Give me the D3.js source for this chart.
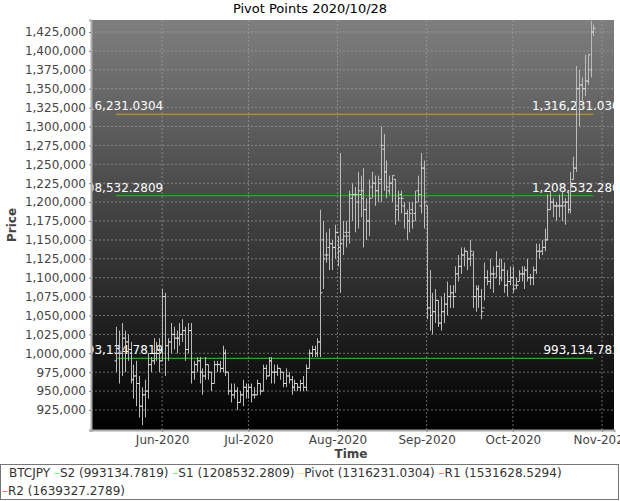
<!DOCTYPE html>
<html>
<head>
<meta charset="utf-8">
<script src="https://cdn.jsdelivr.net/npm/d3@7"></script>
<style>
body { margin: 0; background: #fff; }
text { font-family: "DejaVu Sans", sans-serif; }
</style>
</head>
<body>
<div id="chart"></div>
<script>
// daily bars, starting 2020-05-16 (values in thousands of JPY)
var startDate = "2020-05-16";
var highs = [1035,1030,1040,1030,1025,1015,985,990,970,955,965,1000,995,1020,1015,1020,
  1085,1080,1020,1040,1035,1030,1040,1045,1035,1040,1040,990,995,995,980,995,985,975,990,990,990,1010,1005,975,960,960,955,950,965,960,
  960,960,955,965,960,985,985,995,995,985,985,980,975,980,975,970,965,960,965,970,985,1005,1010,1010,1020,1190,1175,1160,1165,1150,1170,
  1155,1265,1175,1175,1215,1225,1220,1240,1235,1245,1205,1230,1240,1235,1235,1300,1290,1255,1235,1235,1230,1215,1215,1200,1190,1200,1200,1215,1235,1265,1255,
  1195,1110,1080,1085,1070,1075,1080,1095,1090,1090,1115,1130,1140,1140,1135,1150,1135,1090,1090,1085,1120,1110,1125,1115,1135,1125,1125,1120,1110,1115,
  1115,1100,1110,1115,1115,1125,1105,1115,1145,1145,1150,1165,1210,1215,1205,1200,1210,1215,1205,1215,1240,1260,1380,1375,1365,1395,1395,1440,1435];
var lows = [975,960,970,975,990,960,940,930,915,905,915,940,975,985,990,975,
  990,970,990,1000,1005,1000,1010,1015,990,1000,960,965,975,960,945,965,965,950,960,975,975,975,970,945,935,940,925,935,930,940,
  940,935,940,945,945,950,965,970,960,960,970,965,955,955,960,945,950,950,950,950,950,980,995,995,995,995,1085,1120,1110,1110,1125,
  1115,1080,1130,1140,1145,1175,1160,1165,1180,1140,1150,1155,1205,1195,1200,1200,1215,1205,1210,1200,1170,1175,1185,1165,1150,1160,1165,1175,1200,1185,1165,
  1045,1030,1025,1040,1035,1030,1040,1050,1060,1060,1080,1095,1105,1115,1110,1115,1060,1055,1060,1045,1070,1090,1085,1080,1100,1090,1095,1080,1075,1090,
  1080,1085,1095,1095,1085,1095,1090,1090,1105,1125,1130,1135,1150,1190,1180,1175,1180,1175,1170,1185,1185,1230,1240,1300,1325,1340,1355,1365,1420];
var opens = [990,1010,1000,1020,1015,1005,965,970,960,930,945,950,985,990,1000,1005,
  990,1075,1010,1015,1025,1020,1020,1025,1030,1005,1030,975,985,990,975,970,985,975,960,985,985,980,1000,975,950,945,950,935,945,955,
  950,955,945,945,960,950,980,970,990,975,975,980,975,960,970,965,955,960,955,960,955,980,1000,1005,1000,1015,1150,1130,1140,1145,1140,
  1160,1140,1150,1160,1160,1205,1210,1200,1210,1215,1190,1175,1220,1225,1215,1230,1270,1240,1215,1225,1230,1195,1210,1195,1185,1175,1190,1185,1215,1195,1245,
  1195,1060,1050,1055,1070,1040,1055,1065,1075,1080,1075,1105,1115,1130,1135,1125,1130,1075,1085,1075,1060,1100,1095,1105,1100,1115,1100,1110,1090,1095,
  1100,1090,1095,1105,1105,1110,1100,1100,1110,1135,1135,1140,1150,1190,1200,1195,1195,1195,1195,1200,1190,1230,1245,1350,1355,1350,1360,1375,1425];
var closes = [1010,1000,1020,1015,1005,965,970,960,930,945,950,985,990,1000,1005,990,
  1075,1010,1015,1025,1020,1020,1025,1030,1005,1030,975,985,990,975,970,985,975,960,985,985,980,1000,975,950,945,950,935,945,955,950,
  955,945,945,960,950,980,970,990,975,975,980,975,960,970,965,955,960,955,960,955,980,1000,1005,1000,1015,1080,1125,1130,1145,1140,1160,
  1135,1145,1155,1155,1210,1210,1210,1215,1205,1190,1175,1205,1225,1215,1225,1275,1240,1220,1225,1235,1190,1205,1205,1185,1175,1185,1175,1200,1210,1245,1200,
  1060,1050,1055,1070,1040,1055,1065,1075,1080,1075,1105,1115,1130,1135,1125,1135,1075,1085,1075,1055,1100,1095,1105,1105,1115,1100,1110,1090,1095,1100,
  1085,1090,1105,1105,1110,1100,1100,1110,1135,1135,1140,1150,1190,1200,1195,1195,1195,1200,1200,1190,1225,1245,1350,1355,1350,1360,1395,1425,1430];

var levelNames = ["S2", "S1", "Pivot", "R1", "R2"];
var levelValues = [993134.7819, 1208532.2809, 1316231.0304, 1531628.5294, 1639327.2789];
var levelLineColors = ["#00c000", "#00c000", "#d4a020", "#ff5555", "#ff5555"];
var levelLegendColors = ["#55ff55", "#55ff55", "#ffdd55", "#ff6666", "#ff6666"];
var yTicks = [925000, 950000, 975000, 1000000, 1025000, 1050000, 1075000, 1100000, 1125000, 1150000,
  1175000, 1200000, 1225000, 1250000, 1275000, 1300000, 1325000, 1350000, 1375000, 1400000, 1425000];
var xTicks = ["2020-06-01", "2020-07-01", "2020-08-01", "2020-09-01", "2020-10-01", "2020-11-01"];

var margin = {top: 20, right: 6, bottom: 71, left: 91},
    width = 620 - margin.left - margin.right,
    height = 501 - margin.top - margin.bottom;

var parse = d3.timeParse("%Y-%m-%d");
var data = highs.map(function(h, i) {
  return {date: d3.timeDay.offset(parse(startDate), i), high: h * 1000, low: lows[i] * 1000,
          open: opens[i] * 1000, close: closes[i] * 1000};
});

var svg = d3.select("#chart").append("svg")
    .attr("width", 620).attr("height", 501);

svg.append("text").attr("x", 310).attr("y", 13).attr("text-anchor", "middle")
    .style("font-size", "13px").text("Pivot Points 2020/10/28");

var defs = svg.append("defs");
var grad = defs.append("linearGradient").attr("id", "bg")
    .attr("x1", 0).attr("y1", 0).attr("x2", 0).attr("y2", 1);
grad.append("stop").attr("offset", "0%").attr("stop-color", "#7e7e7e");
grad.append("stop").attr("offset", "100%").attr("stop-color", "#000");
defs.append("clipPath").attr("id", "clip").append("rect")
    .attr("width", width).attr("height", height);

var g = svg.append("g").attr("transform", "translate(" + margin.left + "," + margin.top + ")");

var x = d3.scaleTime()
    .domain([new Date(2020, 4, 7, 6), new Date(2020, 10, 5, 4)])
    .range([0, width]);
var y = d3.scaleLinear().domain([898500, 1440900]).range([height, 0]);

g.append("rect").attr("width", width).attr("height", height).attr("fill", "url(#bg)");

// grid
g.selectAll(".hgrid").data(yTicks).enter().append("line")
    .attr("x1", 0).attr("x2", width)
    .attr("y1", function(d) { return y(d); }).attr("y2", function(d) { return y(d); })
    .attr("stroke", "#aaa").attr("stroke-opacity", 0.6).attr("stroke-dasharray", "2,2");
g.selectAll(".vgrid").data(xTicks).enter().append("line")
    .attr("y1", 0).attr("y2", height)
    .attr("x1", function(d) { return x(parse(d)); }).attr("x2", function(d) { return x(parse(d)); })
    .attr("stroke", "#aaa").attr("stroke-opacity", 0.6).attr("stroke-dasharray", "2,2");

var plot = g.append("g").attr("clip-path", "url(#clip)");

// pivot lines
var x0 = x(data[0].date), x1 = x(data[data.length - 1].date);
levelValues.forEach(function(v, i) {
  plot.append("line").attr("x1", x0).attr("x2", x1)
      .attr("y1", y(v)).attr("y2", y(v))
      .attr("stroke", levelLineColors[i]).attr("stroke-width", 1.2);
  var label = d3.format(",.4f")(v);
  plot.append("text").attr("x", x0 + 47).attr("y", y(v) - 4).attr("text-anchor", "end")
      .attr("fill", "#fff").style("font-size", "12px").text(label);
  plot.append("text").attr("x", x1 + 34).attr("y", y(v) - 4).attr("text-anchor", "end")
      .attr("fill", "#fff").style("font-size", "12px").text(label);
});

// HLC bars
var bars = plot.selectAll(".bar").data(data).enter().append("g")
    .attr("transform", function(d) { return "translate(" + Math.round(x(d.date)) + ",0)"; });
bars.append("line").attr("x1", 0.5).attr("x2", 0.5)
    .attr("y1", function(d) { return y(d.high); }).attr("y2", function(d) { return y(d.low); })
    .attr("stroke", "#bbb");
bars.append("line").attr("x1", -1.5).attr("x2", 0.5)
    .attr("y1", function(d) { return y(d.open); }).attr("y2", function(d) { return y(d.open); })
    .attr("stroke", "#ddd");
bars.append("line").attr("x1", 0.5).attr("x2", 2.5)
    .attr("y1", function(d) { return y(d.close); }).attr("y2", function(d) { return y(d.close); })
    .attr("stroke", "#ddd");

// axes
var yAxis = g.append("g").call(d3.axisLeft(y).tickValues(yTicks).tickFormat(d3.format(",")).tickSize(2));
var xAxis = g.append("g").attr("transform", "translate(0," + height + ")")
    .call(d3.axisBottom(x).tickValues(xTicks.map(parse)).tickFormat(d3.timeFormat("%b-%Y")).tickSize(2));
[yAxis, xAxis].forEach(function(a) {
  a.select(".domain").attr("stroke", "#aaa").attr("stroke-width", 2);
  a.selectAll(".tick line").attr("stroke", "#888");
  a.selectAll("text").style("font-size", "12px").attr("fill", "#444")
      .style("font-family", "DejaVu Sans, sans-serif");
});

svg.append("text").attr("transform", "translate(16,225) rotate(-90)").attr("text-anchor", "middle")
    .style("font-size", "12px").style("font-weight", "bold").attr("fill", "#444").text("Price");
svg.append("text").attr("x", 351).attr("y", 458).attr("text-anchor", "middle")
    .style("font-size", "12px").style("font-weight", "bold").attr("fill", "#444").text("Time");

// legend
svg.append("rect").attr("x", 0.5).attr("y", 464.5).attr("width", 618).attr("height", 35)
    .attr("fill", "#fff").attr("stroke", "#777");
var leg = svg.append("text").attr("x", 9).attr("y", 477).style("font-size", "12px").attr("fill", "#333");
leg.append("tspan").text("BTCJPY ");
levelNames.forEach(function(n, i) {
  var t = leg;
  if (i == 4) {
    t = svg.append("text").attr("x", 2).attr("y", 495).style("font-size", "12px").attr("fill", "#333");
  }
  t.append("tspan").attr("fill", levelLegendColors[i]).text("\u2013");
  t.append("tspan").text(n + " (" + levelValues[i] + ") ");
});
</script>
</body>
</html>
